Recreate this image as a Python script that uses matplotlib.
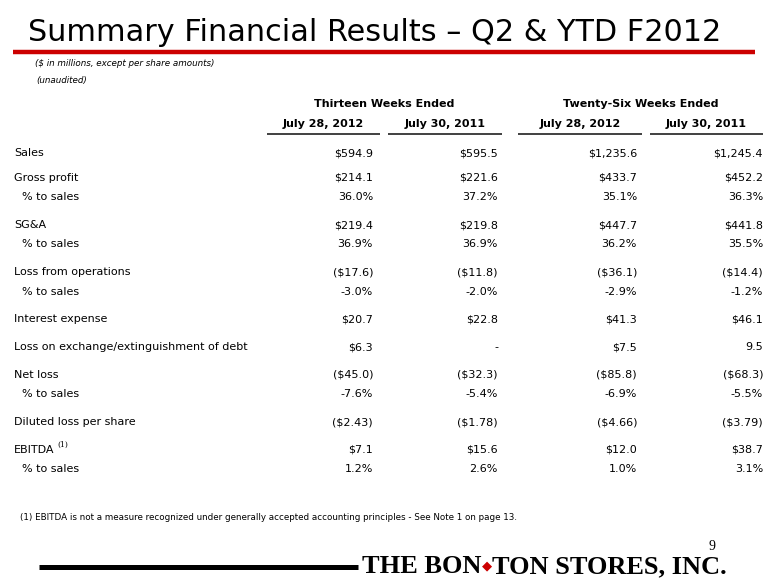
import matplotlib
matplotlib.use("Agg")
import matplotlib.pyplot as plt

# table data
row_labels = ["Sales", "Gross profit", "% to sales", "SG&A", "% to sales",
              "Loss from operations", "% to sales", "Interest expense",
              "Loss on exchange/extinguishment of debt", "Net loss", "% to sales",
              "Diluted loss per share", "EBITDA", "% to sales"]
q2_2012 = ["$594.9", "$214.1", "36.0%", "$219.4", "36.9%", "($17.6)", "-3.0%",
           "$20.7", "$6.3", "($45.0)", "-7.6%", "($2.43)", "$7.1", "1.2%"]
q2_2011 = ["$595.5", "$221.6", "37.2%", "$219.8", "36.9%", "($11.8)", "-2.0%",
           "$22.8", "-", "($32.3)", "-5.4%", "($1.78)", "$15.6", "2.6%"]
ytd_2012 = ["$1,235.6", "$433.7", "35.1%", "$447.7", "36.2%", "($36.1)", "-2.9%",
            "$41.3", "$7.5", "($85.8)", "-6.9%", "($4.66)", "$12.0", "1.0%"]
ytd_2011 = ["$1,245.4", "$452.2", "36.3%", "$441.8", "35.5%", "($14.4)", "-1.2%",
            "$46.1", "9.5", "($68.3)", "-5.5%", "($3.79)", "$38.7", "3.1%"]
group_headers = ["Thirteen Weeks Ended", "Twenty-Six Weeks Ended"]
date_headers = ["July 28, 2012", "July 30, 2011", "July 28, 2012", "July 30, 2011"]

title = "Summary Financial Results \u2013 Q2 & YTD F2012"
subtitle = "($ in millions, except per share amounts)"
unaudited = "(unaudited)"
footnote = "(1) EBITDA is not a measure recognized under generally accepted accounting principles - See Note 1 on page 13."
logo_parts = ["THE BON", "\u25c6", "TON STORES, INC."]
page_no = "9"

fig = plt.figure(figsize=(7.8, 5.85), dpi=100)
ax = fig.add_axes([0, 0, 1, 1])
ax.set_xlim(0, 780)
ax.set_ylim(585, 0)
ax.axis('off')
renderer = fig.canvas.get_renderer()


def fit_width(t, width):
    bb = t.get_window_extent(renderer)
    t.set_fontsize(t.get_fontsize() * width / bb.width)


# title + red rule
t = ax.text(28, 41, title, fontsize=27, va='baseline', ha='left', color='black')
fit_width(t, 690)
ax.plot([13, 755], [52, 52], color='#cc0000', lw=3.2, solid_capstyle='butt')

ax.text(35, 63, subtitle, fontsize=6.3, style='italic', va='center')
ax.text(36, 80, unaudited, fontsize=6.3, style='italic', va='center')

# column headers
seg = [(267, 380), (388, 502), (518, 642), (650, 763)]
for (a, b), h in zip(seg, date_headers):
    ax.text((a + b) / 2, 124, h, fontsize=8, fontweight='bold', ha='center', va='center')
    ax.plot([a, b], [134, 134], color='#404040', lw=1.4, solid_capstyle='butt')
ax.text((seg[0][0] + seg[1][1]) / 2, 104, group_headers[0], fontsize=8,
        fontweight='bold', ha='center', va='center')
ax.text((seg[2][0] + seg[3][1]) / 2, 104, group_headers[1], fontsize=8,
        fontweight='bold', ha='center', va='center')

# rows
cols = [q2_2012, q2_2011, ytd_2012, ytd_2011]
col_right = [373, 498, 637, 763]
y = 153
for i, lab in enumerate(row_labels):
    sub = lab.startswith('%')
    if i > 0:
        y += 19.3 if sub else 27.8
    if i == 1:
        y -= 2.8
    ax.text(22 if sub else 14, y, lab, fontsize=8, ha='left', va='center')
    if lab == "EBITDA":
        ax.text(57, y - 5, "(1)", fontsize=5.5, family='DejaVu Serif', ha='left', va='center')
    for c, xr in zip(cols, col_right):
        ax.text(xr, y, c[i], fontsize=8, ha='right', va='center')

ax.text(20, 517, footnote, fontsize=6.3, ha='left', va='center')

# company logo
ax.plot([39, 358], [566.5, 566.5], color='black', lw=3.6, solid_capstyle='butt')


def draw_logo(scale):
    x0 = 362
    out = []
    for s in logo_parts:
        dia = s == "\u25c6"
        tt = ax.text(x0, 573 - (4 if dia else 0), s,
                     fontsize=(10 if dia else 20) * scale,
                     color='#cc0000' if dia else 'black', ha='left', va='baseline',
                     family=['DejaVu Sans'] if dia else ['Liberation Serif', 'DejaVu Serif'],
                     fontweight='normal' if dia else 'bold')
        x0 += tt.get_window_extent(renderer).width
        out.append(tt)
    return out, x0 - 362


parts, w = draw_logo(1.0)
for p in parts:
    p.remove()
draw_logo(363 / w)
ax.text(712, 546, page_no, fontsize=10, family='Liberation Serif', ha='center', va='center')

fig.savefig('out.png', dpi=100)
